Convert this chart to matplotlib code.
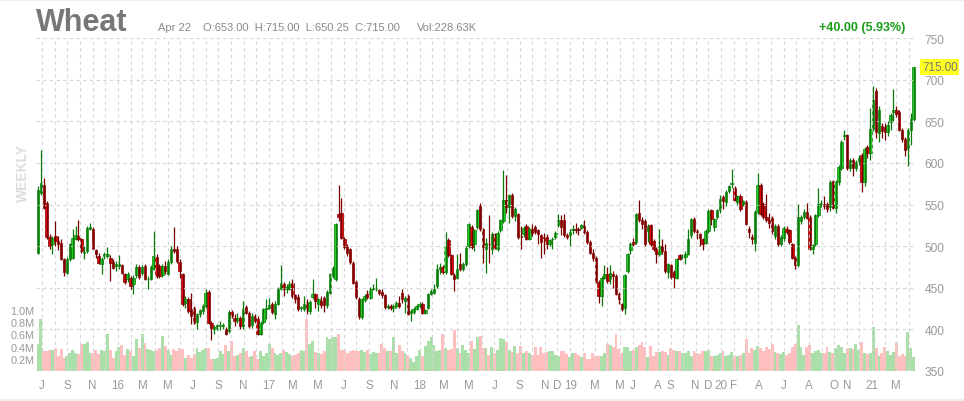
import matplotlib
matplotlib.use("Agg")
import matplotlib.pyplot as plt
import numpy as np
import pandas as pd

plt.rcParams['font.family'] = ['Liberation Sans', 'DejaVu Sans']

# weekly wheat candles, Jun 22 2015 .. Apr 19 2021
start = pd.Timestamp('2015-06-22')

opens = [
    492, 564, 574, 552, 511, 502, 512, 506, 504, 484, 468, 484, 486, 509, 512, 508, 492, 494, 521, 521,
    495, 488, 478, 488, 488, 486, 481, 476, 476, 477, 467, 461, 462, 455, 465, 475, 468, 476, 460, 461,
    473, 487, 476, 465, 476, 467, 481, 497, 496, 481, 466, 432, 437, 424, 426, 409, 419, 422, 428, 445,
    408, 400, 404, 404, 404, 401, 398, 421, 414, 411, 414, 404, 427,
    420, 405, 416, 413, 395, 409, 425, 426, 430, 419, 431, 449, 454, 449, 449, 456, 441, 439, 426, 424,
    432, 422, 439, 442, 431, 434, 438, 429, 444, 464, 460, 538, 540, 509, 499, 496, 480, 457, 437, 415,
    435, 442, 438, 449, 448, 447, 445, 441, 427, 428, 426, 428, 432, 444, 434, 440, 420, 421, 425, 428,
    431, 420, 426, 443, 444, 452, 472, 475, 469, 507, 489, 465, 462, 478, 472, 478, 500, 523, 503, 523,
    548, 520, 496, 503, 497, 514, 496, 519, 530, 555, 547, 562, 536, 538, 512, 515, 524, 509, 521, 523,
    519, 513, 511, 511, 502, 508, 511, 525, 531, 531, 513, 513, 519, 520, 520, 522, 524, 517, 505, 492,
    486, 457, 440, 462, 467, 461, 467, 464, 443, 430, 426, 470, 495, 505, 505, 540, 531, 530, 518, 525,
    506, 497, 491, 500, 494, 469, 477, 469, 462, 489, 487, 487, 491, 513, 533, 518, 514, 508, 504, 518,
    543, 523, 535, 543, 559, 553,
    566, 575, 570, 553, 560, 551, 553, 521, 511, 504, 541, 574, 551, 535, 531, 534, 512, 524, 503, 510,
    521, 519, 502, 486, 477, 530, 535, 541, 535, 497, 503, 537, 551, 551, 551, 547, 578, 546, 577, 594,
    632, 633, 594, 603, 594, 602, 609, 577, 619, 612, 641, 686, 636, 644, 643, 637, 649, 661, 663, 661,
    640, 629, 617, 639, 653,
]
highs = [
    572, 616, 582, 554, 514, 512, 530, 512, 508, 486, 487, 504, 520, 524, 531, 510, 500, 524, 528, 523,
    497, 492, 487, 493, 499, 489, 484, 482, 489, 479, 468, 469, 464, 465, 478, 477, 477, 478, 464, 477,
    518, 490, 478, 478, 482, 484, 500, 523, 500, 484, 468, 440, 439, 444, 428, 420, 425, 430, 448, 447,
    410, 405, 407, 410, 408, 403, 423, 423, 418, 420, 416, 434, 429,
    422, 420, 418, 416, 410, 426, 437, 438, 433, 434, 451, 477, 457, 455, 458, 460, 443, 442, 428, 440,
    437, 435, 461, 444, 438, 440, 440, 447, 468, 476, 528, 574, 558, 511, 503, 498, 482, 459, 439, 438,
    442, 447, 451, 455, 462, 449, 448, 443, 430, 430, 431, 434, 440, 448, 440, 442, 424, 427, 430, 433,
    433, 425, 444, 448, 455, 478, 480, 477, 517, 510, 491, 468, 490, 492, 481, 500, 528, 525, 521, 545,
    552, 522, 510, 537, 517, 516, 518, 533, 592, 585, 563, 564, 547, 540, 524, 524, 526, 523, 526, 525,
    521, 515, 516, 514, 509, 511, 518, 538, 537, 538, 516, 520, 525, 528, 523, 527, 531, 519, 507, 496,
    488, 459, 464, 477, 475, 477, 470, 466, 445, 432, 467, 492, 505, 510, 540, 556, 535, 532, 526, 527,
    508, 499, 520, 508, 502, 480, 479, 471, 486, 491, 490, 494, 520, 534, 535, 520, 516, 510, 520, 544,
    545, 534, 545, 562, 561, 567,
    574, 593, 572, 562, 563, 556, 555, 524, 514, 543, 588, 576, 553, 563, 540, 536, 526, 526, 513, 524,
    524, 521, 504, 488, 551, 537, 545, 552, 537, 503, 539, 570, 556, 560, 553, 579, 580, 579, 597, 627,
    640, 635, 606, 606, 604, 610, 612, 619, 622, 666, 692, 690, 668, 648, 648, 650, 660, 689, 668, 663,
    642, 631, 642, 660, 715,
]
lows = [
    490, 562, 544, 509, 496, 491, 500, 495, 483, 464, 466, 482, 484, 507, 506, 492, 484, 492, 519, 496,
    486, 478, 466, 484, 486, 458, 472, 470, 472, 466, 455, 457, 449, 443, 462, 461, 465, 459, 448, 459,
    471, 462, 462, 463, 466, 465, 479, 492, 480, 462, 428, 426, 420, 407, 406, 400, 415, 419, 426, 406,
    387, 395, 399, 399, 400, 393, 396, 414, 404, 408, 400, 400, 418,
    402, 402, 408, 393, 393, 407, 412, 424, 418, 412, 429, 447, 440, 444, 447, 438, 432, 422, 422, 422,
    418, 419, 437, 426, 422, 426, 421, 426, 442, 462, 458, 530, 508, 496, 488, 478, 454, 437, 412, 412,
    433, 437, 436, 447, 446, 441, 438, 425, 424, 423, 421, 426, 426, 432, 420, 417, 410, 418, 423, 426,
    418, 418, 424, 441, 442, 450, 466, 467, 467, 487, 465, 446, 460, 470, 470, 476, 498, 497, 494, 521,
    518, 480, 468, 480, 490, 496, 494, 517, 528, 540, 528, 534, 530, 509, 496, 511, 507, 507, 512, 515,
    503, 486, 490, 496, 500, 497, 509, 523, 513, 511, 508, 500, 514, 516, 513, 520, 515, 503, 490, 482,
    456, 432, 428, 460, 456, 455, 450, 441, 430, 422, 419, 468, 490, 500, 503, 529, 520, 500, 505, 500,
    494, 480, 488, 490, 468, 462, 461, 450, 460, 483, 485, 478, 489, 510, 516, 508, 500, 495, 502, 516,
    525, 518, 533, 540, 545, 548,
    564, 570, 554, 550, 542, 548, 525, 510, 502, 494, 539, 536, 533, 529, 522, 514, 508, 500, 500, 506,
    515, 503, 484, 473, 475, 526, 532, 532, 495, 490, 500, 535, 547, 545, 541, 542, 544, 540, 574, 591,
    628, 592, 590, 584, 590, 598, 565, 572, 606, 604, 638, 630, 625, 630, 628, 632, 640, 650, 655, 638,
    625, 608, 596, 622, 650,
]
closes = [
    568, 576, 546, 511, 500, 510, 506, 503, 484, 469, 485, 502, 510, 513, 508, 494, 492, 522, 523, 497,
    490, 480, 485, 491, 491, 480, 474, 478, 479, 468, 457, 467, 452, 462, 475, 463, 475, 461, 460, 475,
    488, 464, 464, 476, 470, 481, 497, 494, 482, 470, 430, 436, 422, 416, 408, 418, 423, 428, 444, 408,
    401, 403, 404, 405, 404, 395, 421, 416, 410, 414, 404, 425, 420,
    404, 416, 410, 395, 408, 424, 426, 429, 421, 431, 449, 456, 449, 451, 454, 440, 437, 425, 426, 430,
    424, 433, 443, 434, 436, 429, 429, 445, 466, 474, 526, 535, 510, 499, 492, 481, 456, 439, 416, 436,
    440, 439, 449, 450, 448, 444, 441, 427, 427, 426, 428, 432, 428, 436, 438, 419, 422, 425, 428, 431,
    420, 423, 442, 446, 449, 472, 475, 469, 500, 489, 467, 460, 472, 472, 479, 498, 526, 499, 519, 543,
    520, 499, 504, 502, 515, 498, 516, 531, 555, 547, 561, 536, 545, 511, 511, 522, 509, 521, 516, 517,
    514, 505, 510, 503, 507, 509, 516, 531, 523, 513, 511, 517, 520, 519, 519, 525, 517, 505, 492, 486,
    458, 440, 462, 466, 458, 468, 464, 443, 437, 425, 465, 490, 503, 503, 538, 531, 527, 503, 524, 503,
    496, 491, 500, 494, 470, 478, 463, 463, 484, 485, 487, 491, 508, 532, 518, 517, 510, 503, 518, 542,
    533, 532, 543, 557, 554, 565,
    572, 575, 556, 560, 544, 554, 527, 517, 508, 541, 574, 538, 535, 531, 528, 518, 524, 502, 511, 522,
    517, 505, 486, 477, 535, 535, 541, 534, 497, 501, 537, 551, 551, 548, 544, 577, 546, 577, 595, 625,
    633, 594, 603, 594, 601, 606, 577, 617, 612, 641, 676, 637, 663, 638, 637, 646, 657, 663, 659, 640,
    629, 615, 640, 653, 715,
]
# volume in thousands of contracts
volumes = [
    450, 850, 320, 320, 340, 350, 380, 240, 360, 210, 250, 300, 340, 300, 280, 440, 440, 470, 290, 290,
    350, 280, 350, 330, 600, 340, 220, 320, 400, 430, 270, 360, 320, 240, 520, 380, 600, 460, 360, 350,
    330, 350, 370, 580, 410, 350, 270, 360, 330, 370, 360, 220, 270, 220, 280, 370, 310, 350, 380, 380,
    200, 190, 220, 330, 280, 420, 320, 490, 250, 270, 300, 380, 330, 230, 250, 330, 200, 330, 240, 300,
    440, 370, 300, 270, 290, 350, 310, 280, 250, 260, 300, 340, 330, 860, 440, 500, 310, 300, 280, 320,
    550, 530, 550, 560, 600, 350, 340, 300, 330, 340, 330, 330, 350, 310, 350, 280, 310, 300, 290, 440,
    370, 320, 330, 550, 300, 420, 320, 290, 270, 220, 140, 250, 350, 240, 410, 500, 550, 420, 320, 340,
    600, 380, 340, 360, 680, 380, 300, 420, 350, 300, 500, 360, 550, 580, 380, 380, 270, 390, 300, 350,
    540, 520, 470, 340, 310, 410, 290, 410, 300, 330, 290, 260, 390, 270, 400, 290, 310, 330, 330, 260,
    250, 330, 320, 280, 230, 300, 300, 270, 230, 300, 190, 200, 300, 240, 250, 250, 300, 450, 430, 400,
    600, 360, 300, 400, 400, 330, 340, 400, 430, 470, 400, 230, 410, 240, 310, 310, 330, 310, 270, 380,
    340, 320, 330, 300, 290, 330, 240, 320, 300, 280, 330, 330, 340, 240, 240, 270, 300, 330, 250, 270,
    310, 240, 250, 270, 300, 530, 300, 370, 350, 410, 380, 320, 400, 360, 440, 310, 300, 280, 310, 260,
    300, 400, 450, 750, 390, 270, 390, 420, 300, 320, 340, 290, 290, 400, 310, 300, 380, 420, 400, 300,
    370, 370, 360, 440, 350, 470, 300, 280, 300, 720, 380, 250, 300, 400, 330, 260, 310, 480, 250, 280,
    250, 640, 380, 229,
]

# months that get a label under the axis
label_months = ['2015-07', '2015-09', '2015-11', '2016-01', '2016-03', '2016-05', '2016-07',
                '2016-09', '2016-11', '2017-01', '2017-03', '2017-05', '2017-07', '2017-09',
                '2017-11', '2018-01', '2018-03', '2018-05', '2018-07', '2018-09', '2018-11',
                '2018-12', '2019-01', '2019-03', '2019-05', '2019-06', '2019-08', '2019-09',
                '2019-11', '2019-12', '2020-01', '2020-02', '2020-04', '2020-06', '2020-08',
                '2020-10', '2020-11', '2021-01', '2021-03']

o = np.array(opens)
h = np.array(highs)
l = np.array(lows)
c = np.array(closes)
v = np.array(volumes) * 1000.0
x = np.arange(len(c))
up = c >= o

W, H = 964, 402
fig = plt.figure(figsize=(W / 100, H / 100), dpi=100)
ax = fig.add_axes([36 / W, 1 - 372 / H, 880 / W, 333 / H])
ax2 = ax.twinx()
ax.set_zorder(2)
ax2.set_zorder(1)
ax.patch.set_visible(False)

# volume
vcol = np.where(up, '#abdfa9', '#ffbfbf')
ax2.bar(x, v, width=1.0, color=vcol, linewidth=0)
ax2.set_ylim(0, 5.46e6)
ax2.yaxis.tick_left()
ax2.set_yticks([2e5, 4e5, 6e5, 8e5, 1e6])
ax2.set_yticklabels(['0.2M', '0.4M', '0.6M', '0.8M', '1.0M'])
ax2.tick_params(axis='y', length=0, pad=1, labelsize=7.8, labelcolor='#999999')

# candles
wick = np.where(up, '#0a7a0a', '#7a0000')
fill = np.where(up, '#22dd22', '#ee0000')
ax.vlines(x, l, h, colors=wick, linewidth=0.9)
bot = np.minimum(o, c)
hgt = np.maximum(np.abs(c - o), 0.8)
ax.bar(x, hgt, bottom=bot, width=0.85, color=fill, edgecolor=wick, linewidth=0.5)

ax.set_xlim(-0.7, 303.8)
ax.set_ylim(350, 750)
ax.yaxis.tick_right()
ax.set_yticks(range(350, 751, 50))
ax.tick_params(axis='y', length=0, pad=6, labelsize=8.6, labelcolor='#999999')

months = pd.date_range('2015-07-01', '2021-04-01', freq='MS')
ax.set_xticks([(m - start).days / 7 for m in months], minor=True)
lm = pd.to_datetime(label_months)
ax.set_xticks([(m - start).days / 7 for m in lm])
ax.set_xticklabels([m.strftime('%y') if m.month == 1 else m.strftime('%b')[0] for m in lm])
ax.tick_params(axis='x', which='both', length=0, pad=6, labelsize=8.4, labelcolor='#999999')
ax.grid(True, which='both', axis='x', color='#d6d6d6', linestyle=(0, (3, 3)), linewidth=0.8)
ax.grid(True, which='major', axis='y', color='#d6d6d6', linestyle=(0, (3, 3)), linewidth=0.8)
for a in (ax, ax2):
    for s in a.spines.values():
        s.set_visible(False)

# last price tag
ax.text(1.0 + 6 / 880, c[-1], '%.2f' % c[-1], transform=ax.get_yaxis_transform(),
        ha='left', va='center', fontsize=8.4, color='#777777',
        bbox=dict(boxstyle='square,pad=0.15', facecolor='#ffff22', edgecolor='none'))

# header
fig.text(36 / W, 1 - 31 / H, 'Wheat', fontsize=22, fontweight='bold', color='#777777', va='baseline')
fig.text(158 / W, 1 - 31 / H, 'Apr 22', fontsize=8, color='#888888', va='baseline')
fig.text(203 / W, 1 - 31 / H, 'O:653.00  H:715.00  L:650.25  C:715.00', fontsize=8,
         color='#888888', va='baseline')
fig.text(417 / W, 1 - 31 / H, 'Vol:228.63K', fontsize=8, color='#888888', va='baseline')
fig.text(905 / W, 1 - 31 / H, '+40.00 (5.93%)', fontsize=9, fontweight='bold', color='#1a9c1a',
         ha='right', va='baseline')
fig.text(23 / W, 1 - 173 / H, 'WEEKLY', rotation=90, fontsize=10, fontweight='bold',
         color='#dddddd', ha='center', va='center')

fig.add_artist(plt.Line2D([0, 1], [1 - 0.5 / H, 1 - 0.5 / H], color='#eeeeee', linewidth=1.5))
fig.add_artist(plt.Line2D([0, 1], [1 - 401 / H, 1 - 401 / H], color='#eeeeee', linewidth=1.5))

fig.savefig('out.png', dpi=100)
